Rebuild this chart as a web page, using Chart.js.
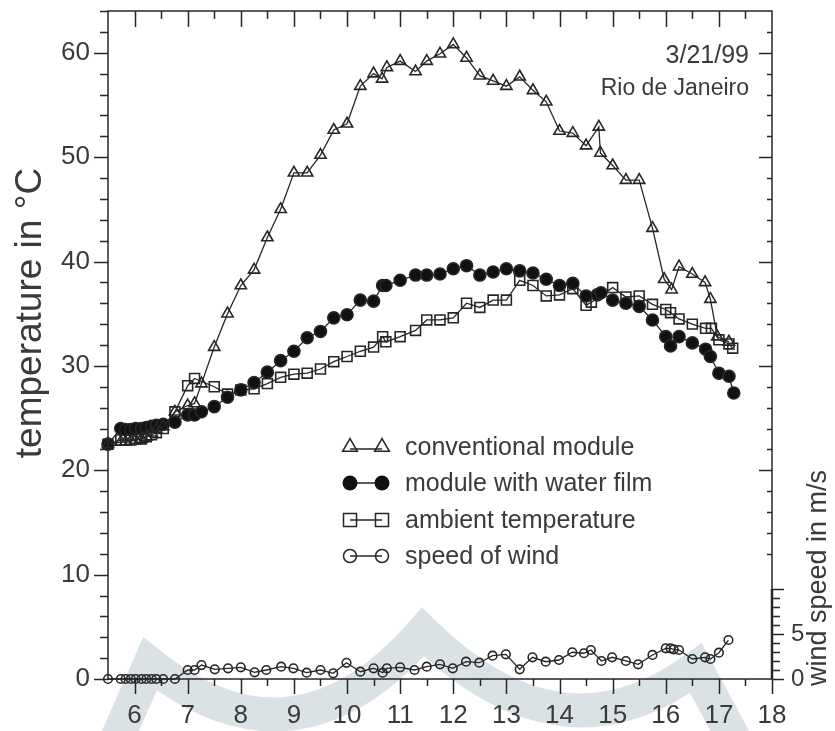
<!DOCTYPE html>
<html><head><meta charset="utf-8">
<script src="https://cdn.jsdelivr.net/npm/chart.js@4/dist/chart.umd.min.js"></script>
<style>html,body{margin:0;padding:0;background:#fff;}canvas{display:block}</style>
</head><body>
<canvas id="c" width="835" height="731"></canvas>
<script>
// ---- data (hour of day) ----
const convTime = [5.5,5.74,5.83,5.93,6.02,6.13,6.22,6.32,6.41,6.54,6.76,7.0,7.13,7.26,7.5,7.75,8.0,8.25,8.5,8.75,9.0,9.25,9.5,9.75,10.0,10.25,10.5,10.66,10.75,11.0,11.29,11.5,11.75,12.0,12.25,12.5,12.75,13.0,13.25,13.5,13.75,14.0,14.25,14.5,14.74,14.77,15.0,15.25,15.5,15.75,15.97,16.11,16.25,16.5,16.74,16.84,16.97,17.19];
const convTemp = [22.5,22.7,22.7,22.8,22.9,23.0,23.2,23.6,23.9,24.2,25.6,26.2,26.4,28.3,31.8,35.0,37.7,39.2,42.3,45.0,48.5,48.5,50.2,52.6,53.2,56.8,58.0,57.5,58.6,59.2,58.2,59.2,59.9,60.8,59.5,57.8,57.3,56.8,57.7,56.4,55.3,52.5,52.3,51.1,52.9,50.4,49.2,47.8,47.8,43.2,38.3,37.3,39.5,38.8,38.0,36.4,32.8,32.3];

const waterTime = [5.5,5.74,5.83,5.93,6.02,6.13,6.22,6.32,6.41,6.54,6.76,7.0,7.13,7.26,7.5,7.75,8.0,8.25,8.5,8.75,9.0,9.25,9.5,9.75,10.0,10.25,10.5,10.67,10.73,11.0,11.29,11.5,11.75,12.0,12.25,12.5,12.75,13.0,13.25,13.5,13.75,14.0,14.25,14.5,14.71,14.78,15.0,15.25,15.5,15.75,16.0,16.09,16.25,16.5,16.75,16.84,17.0,17.19,17.28];
const waterTemp = [22.5,24.0,23.9,23.9,24.0,24.0,24.1,24.2,24.3,24.4,24.6,25.3,25.3,25.6,26.1,27.0,27.7,28.4,29.4,30.5,31.4,32.7,33.3,34.6,34.9,36.3,36.2,37.7,37.7,38.2,38.7,38.7,38.8,39.3,39.6,38.7,39.0,39.3,39.1,38.9,38.3,37.7,37.9,36.7,36.8,37.0,36.3,36.0,35.7,34.4,32.8,31.9,32.8,32.2,31.6,30.9,29.3,29.0,27.4];

const ambTime = [5.5,5.74,5.83,5.93,6.02,6.13,6.22,6.32,6.41,6.54,6.76,7.0,7.13,7.5,7.75,8.0,8.25,8.5,8.75,9.0,9.25,9.5,9.75,10.0,10.25,10.5,10.67,10.73,11.0,11.29,11.5,11.75,12.0,12.25,12.5,12.75,13.0,13.25,13.5,13.75,14.0,14.25,14.5,14.6,15.0,15.25,15.5,15.75,16.0,16.09,16.25,16.5,16.75,16.86,17.0,17.19,17.26];
const ambTemp = [22.5,22.9,22.9,22.9,23.0,23.0,23.2,23.4,23.6,24.0,25.6,28.1,28.8,28.0,27.3,27.7,27.8,28.3,28.9,29.2,29.3,29.7,30.4,30.9,31.4,31.8,32.8,32.3,32.8,33.4,34.4,34.4,34.6,36.0,35.6,36.3,36.3,38.2,37.7,36.7,36.8,37.4,35.8,36.1,37.5,36.6,36.7,35.9,35.4,35.1,34.5,34.0,33.6,33.6,32.5,32.1,31.7];

const windTime = [5.5,5.74,5.83,5.93,6.02,6.13,6.22,6.32,6.41,6.54,6.76,7.0,7.13,7.26,7.51,7.76,8.0,8.26,8.48,8.76,8.99,9.24,9.5,9.74,9.99,10.25,10.5,10.67,10.75,11.0,11.27,11.5,11.75,11.99,12.24,12.49,12.74,12.99,13.25,13.49,13.74,13.99,14.24,14.46,14.59,14.79,14.99,15.25,15.48,15.75,16.0,16.09,16.15,16.25,16.5,16.74,16.84,17.0,17.18];
const windSpeed = [0,0,0,0,0,0,0,0,0,0,0,1.0,1.0,1.55,1.08,1.19,1.3,0.74,1.0,1.37,1.19,0.7,1.0,0.63,1.8,0.81,1.19,0.7,1.19,1.3,1.0,1.37,1.63,1.19,1.92,1.81,2.59,2.74,1.08,2.41,1.92,2.11,2.97,2.86,3.22,2.0,2.41,2.0,1.63,2.67,3.41,3.41,3.3,3.22,2.22,2.41,2.22,2.92,4.33];

const xTickLabels = [6,7,8,9,10,11,12,13,14,15,16,17,18];
const tempTickLabels = [0,10,20,30,40,50,60];
const windTickLabels = [0,5];
const legendLabels = ['conventional module','module with water film','ambient temperature','speed of wind'];
const noteLines = ['3/21/99','Rio de Janeiro'];
const tempTitle = 'temperature in °C';
const windTitle = 'wind speed in m/s';

const INK = '#262626';
const TXT = '#3a3a3a';
const FONT = '"Liberation Sans", Arial, Helvetica, sans-serif';

const pts = (xs, ys) => xs.map((t, i) => ({x: t, y: ys[i]}));

const watermark = {
  id: 'watermark',
  beforeDraw(chart) {
    const ctx = chart.ctx;
    ctx.save();
    ctx.fillStyle = '#fff';
    ctx.fillRect(0, 0, chart.width, chart.height);
    ctx.strokeStyle = '#dbe2e6';
    ctx.lineWidth = 34;
    ctx.lineJoin = 'miter';
    ctx.miterLimit = 10;
    ctx.beginPath();
    ctx.moveTo(112, 750);
    ctx.lineTo(150, 664);
    ctx.quadraticCurveTo(295, 779, 423, 632);
    ctx.quadraticCurveTo(561, 768, 696, 668);
    ctx.lineTo(740, 750);
    ctx.stroke();
    ctx.restore();
  }
};

const frame = {
  id: 'frame',
  afterDatasetsDraw(chart) {
    const {ctx, chartArea: {left, right, top, bottom}, scales: {x, y, y2}} = chart;
    ctx.save();
    ctx.strokeStyle = INK;
    ctx.lineWidth = 1.5;
    ctx.strokeRect(left, top, right - left, bottom - top);
    ctx.beginPath();
    for (let v = 6; v <= 18; v += 0.5) {
      const px = Math.round(x.getPixelForValue(v)) + 0.5;
      const major = Number.isInteger(v);
      ctx.moveTo(px, bottom); ctx.lineTo(px, bottom + (major ? 15 : 7));
      if (v < 18) { ctx.moveTo(px, top); ctx.lineTo(px, top + (major ? 16 : 8)); }
    }
    for (let v = 0; v <= 64; v += 2) {
      const py = Math.round(y.getPixelForValue(v)) + 0.5;
      const major = v % 10 === 0;
      ctx.moveTo(left, py); ctx.lineTo(left - (major ? 14 : 8), py);
      if (v > 10 && v < 64) { ctx.moveTo(right, py); ctx.lineTo(right - (major ? 13 : 5), py); }
    }
    for (let v = 0; v <= 10; v += 1) {
      const py = Math.round(y2.getPixelForValue(v)) + 0.5;
      ctx.moveTo(right, py); ctx.lineTo(right + (v % 5 === 0 ? 12 : 8), py);
    }
    ctx.stroke();
    ctx.lineWidth = 2.5;
    ctx.beginPath();
    ctx.moveTo(right, y2.getPixelForValue(0)); ctx.lineTo(right, y2.getPixelForValue(10));
    ctx.stroke();
    // x tick labels, placed through the x scale
    ctx.fillStyle = TXT;
    ctx.font = '26px ' + FONT;
    ctx.textAlign = 'center';
    ctx.textBaseline = 'middle';
    xTickLabels.forEach(v => ctx.fillText(String(v), x.getPixelForValue(v), 716));
    ctx.restore();
  }
};

function marker(ctx, style, cx, cy, r) {
  ctx.beginPath();
  if (style === 'triangle') {
    ctx.moveTo(cx, cy - r);
    ctx.lineTo(cx + r * 0.866, cy + r * 0.5);
    ctx.lineTo(cx - r * 0.866, cy + r * 0.5);
    ctx.closePath();
    ctx.stroke();
  } else if (style === 'rect') {
    ctx.rect(cx - r, cy - r, 2 * r, 2 * r);
    ctx.stroke();
  } else if (style === 'disc') {
    ctx.arc(cx, cy, r, 0, Math.PI * 2);
    ctx.fill();
  } else {
    ctx.arc(cx, cy, r, 0, Math.PI * 2);
    ctx.stroke();
  }
}

const texts = {
  id: 'texts',
  afterDraw(chart) {
    const ctx = chart.ctx;
    ctx.save();
    // legend
    const styles = ['triangle', 'disc', 'rect', 'circle'];
    const sizes = [8.5, 7.5, 6.5, 6.5];
    const rowY = [447, 483, 520, 556];
    ctx.strokeStyle = INK; ctx.fillStyle = '#111'; ctx.lineWidth = 1.5;
    styles.forEach((s, i) => {
      const cy = rowY[i];
      const ly = s === 'triangle' ? cy + 2 : cy;
      ctx.beginPath(); ctx.moveTo(350, ly); ctx.lineTo(382, ly); ctx.stroke();
      marker(ctx, s, 350, cy, sizes[i]);
      marker(ctx, s, 382, cy, sizes[i]);
    });
    ctx.fillStyle = TXT;
    ctx.font = '25px ' + FONT;
    ctx.textBaseline = 'middle';
    ctx.textAlign = 'left';
    legendLabels.forEach((t, i) => ctx.fillText(t, 405, rowY[i] + 1));
    // annotation
    ctx.textAlign = 'right';
    ctx.font = '25px ' + FONT;
    ctx.fillText(noteLines[0], 749, 56);
    ctx.font = '23px ' + FONT;
    ctx.fillText(noteLines[1], 749, 89);
    // axis titles
    ctx.textAlign = 'center';
    ctx.font = '37px ' + FONT;
    ctx.translate(31, 313); ctx.rotate(-Math.PI / 2);
    ctx.fillText(tempTitle, 0, 0);
    ctx.setTransform(1, 0, 0, 1, 0, 0);
    ctx.font = '27px ' + FONT;
    ctx.translate(819, 578); ctx.rotate(-Math.PI / 2);
    ctx.fillText(windTitle, 0, 0);
    ctx.restore();
  }
};

const noPad = s => { s.paddingTop = 0; s.paddingBottom = 0; s.paddingLeft = 0; s.paddingRight = 0; };
const common = {showLine: true, tension: 0, clip: false, borderColor: INK, borderWidth: 1.3, pointBorderColor: INK, pointBorderWidth: 1.6};

new Chart(document.getElementById('c'), {
  type: 'scatter',
  data: {
    datasets: [
      Object.assign({label: legendLabels[0], data: pts(convTime, convTemp), yAxisID: 'y', pointStyle: 'triangle', pointRadius: 6.5, pointBackgroundColor: 'rgba(0,0,0,0)'}, common),
      Object.assign({label: legendLabels[1], data: pts(waterTime, waterTemp), yAxisID: 'y', pointStyle: 'circle', pointRadius: 6, pointBackgroundColor: '#111'}, common),
      Object.assign({label: legendLabels[2], data: pts(ambTime, ambTemp), yAxisID: 'y', pointStyle: 'rect', pointRadius: 7, pointBackgroundColor: 'rgba(0,0,0,0)'}, common),
      Object.assign({label: legendLabels[3], data: pts(windTime, windSpeed), yAxisID: 'y2', pointStyle: 'circle', pointRadius: 4.3, pointBackgroundColor: 'rgba(0,0,0,0)'}, common)
    ]
  },
  options: {
    responsive: false,
    animation: false,
    devicePixelRatio: 1,
    layout: {padding: {top: 11, left: 0, right: 0, bottom: 0}},
    plugins: {legend: {display: false}, tooltip: {enabled: false}},
    scales: {
      x: {
        type: 'linear', position: 'bottom', min: 5.5, max: 18,
        afterBuildTicks: s => { s.ticks = xTickLabels.map(v => ({value: v})); },
        afterFit: s => { s.height = 52; noPad(s); },
        ticks: {display: false},
        grid: {display: false, drawTicks: false}, border: {display: false}
      },
      y: {
        type: 'linear', position: 'left', min: 0, max: 64,
        afterBuildTicks: s => { s.ticks = tempTickLabels.map(v => ({value: v})); },
        afterFit: s => { s.width = 108; noPad(s); },
        ticks: {color: TXT, font: {family: FONT, size: 26}, padding: 18},
        grid: {display: false, drawTicks: false}, border: {display: false}
      },
      y2: {
        type: 'linear', position: 'right', min: 0, max: 74.2,
        afterBuildTicks: s => { s.ticks = windTickLabels.map(v => ({value: v})); },
        afterFit: s => { s.width = 63; noPad(s); },
        ticks: {color: TXT, font: {family: FONT, size: 24}, padding: 19},
        grid: {display: false, drawTicks: false}, border: {display: false}
      }
    }
  },
  plugins: [watermark, frame, texts]
});
</script>
</body></html>
